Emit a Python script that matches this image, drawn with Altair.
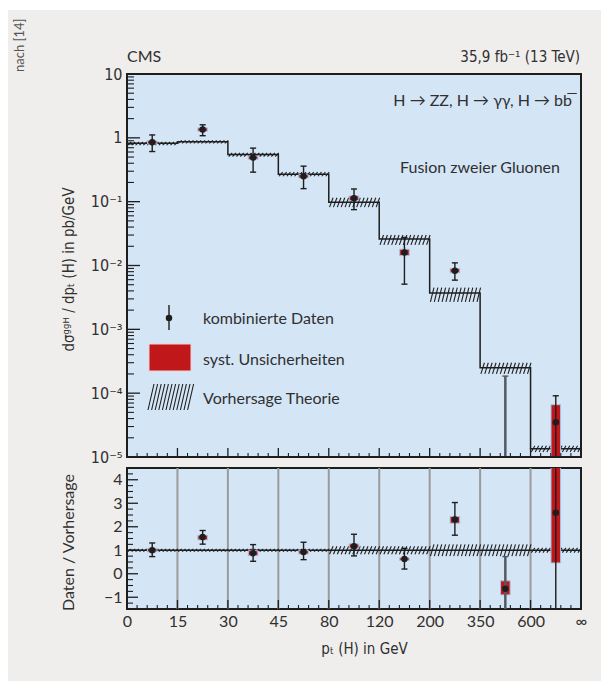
import json
import altair as alt
import numpy as np
import pandas as pd

# ---------------- data ----------------
edge_labels = ["0", "15", "30", "45", "80", "120", "200", "350", "600", "∞"]

theory    = [0.82, 0.87, 0.55, 0.27, 0.098, 0.026, 0.0037, 0.00025, 1.35e-5]
theory_lo = [0.77, 0.82, 0.51, 0.25, 0.082, 0.021, 0.0027, 0.00020, 1.20e-5]
theory_hi = [0.86, 0.91, 0.58, 0.29, 0.115, 0.030, 0.0045, 0.00030, 1.50e-5]

xsec      = [0.85, 1.35, 0.49, 0.25, 0.113, 0.016, 0.0083, -1.6e-4, 3.5e-5]
xsec_lo   = [0.61, 1.08, 0.29, 0.16, 0.075, 0.0051, 0.0059, -5.0e-4, -3.0e-5]
xsec_hi   = [1.11, 1.60, 0.69, 0.36, 0.158, 0.0275, 0.0110, 1.85e-4, 9.1e-5]
syst_lo   = [0.80, 1.27, 0.46, 0.235, 0.104, 0.0143, 0.0077, -2.3e-4, -2.0e-5]
syst_hi   = [0.90, 1.43, 0.52, 0.265, 0.123, 0.0180, 0.0090, -7.0e-5, 6.6e-5]

ratio     = [1.00, 1.56, 0.87, 0.93, 1.17, 0.63, 2.31, -0.64, 2.60]
ratio_lo  = [0.73, 1.26, 0.53, 0.60, 0.76, 0.20, 1.64, -3.00, -3.00]
ratio_hi  = [1.31, 1.84, 1.24, 1.34, 1.68, 1.08, 3.03, 0.73, 7.00]
rsyst_lo  = [0.93, 1.44, 0.77, 0.84, 1.09, 0.57, 2.15, -0.90, 0.46]
rsyst_hi  = [1.08, 1.64, 0.98, 1.00, 1.27, 0.68, 2.44, -0.30, 6.00]
rtheo_lo  = [0.95, 0.95, 0.95, 0.94, 0.83, 0.83, 0.75, 0.75, 0.90]
rtheo_hi  = [1.05, 1.05, 1.05, 1.06, 1.17, 1.17, 1.25, 1.25, 1.10]

upper_ticks = [1e-5, 1e-4, 1e-3, 1e-2, 1e-1, 1, 10]
lower_ticks = [-1, 0, 1, 2, 3, 4]

# ---------------- style ----------------
FONT = "Lato, DejaVu Sans Condensed, sans-serif"
FONT_SUP = "DejaVu Sans Condensed, DejaVu Sans, sans-serif"
INK = "#1e1e1e"
TXT = "#303030"
RED = "#c0171b"
BLUE = "#d4e5f6"
BG = "#efeeec"
W, H1, H2 = 454, 383, 141
NB = len(theory)
YMIN_U, YMAX_U = 1e-5, 10
YMIN_L, YMAX_L = -1.5, 4.5
HALF = 0.095   # half width of syst boxes (in bin units)
CAP = 0.06
FS = 16

xs = alt.Scale(domain=[0, NB], nice=False, zero=False)
ys = alt.Scale(type="log", domain=[YMIN_U, YMAX_U], nice=False)
yl = alt.Scale(domain=[YMIN_L, YMAX_L], nice=False, zero=False)

up_labels = ("datum.value >= 9 ? '10' : (datum.value >= 0.9 ? '1' : "
             "'10\u207b' + ['','\u00b9','\u00b2','\u00b3','\u2074','\u2075'][round(-log(datum.value)/LN10)])")
AXU = alt.Axis(values=upper_ticks, labelExpr=up_labels, ticks=False, domain=False, grid=False,
               labelPadding=5, labelFontSize=FS, labelColor=TXT, labelFont=FONT_SUP,
               title="dσᵍᵍᴴ / dpₜ (H) in pb/GeV", titleFont=FONT_SUP, titleFontSize=15,
               titleFontWeight="normal", titleColor=TXT, titleX=-59, titleY=195,
               titleAngle=270, titleAlign="center", titleBaseline="middle", zindex=1)
AXL = alt.Axis(values=lower_ticks, ticks=False, domain=False, grid=False, labelPadding=5,
               labelFontSize=FS, labelColor=TXT, labelFont=FONT,
               title="Daten / Vorhersage", titleFont=FONT, titleFontSize=FS,
               titleFontWeight="normal", titleColor=TXT, titleX=-59, titleY=74,
               titleAngle=270, titleAlign="center", titleBaseline="middle", zindex=1)
AXX = alt.Axis(values=list(range(NB + 1)), labelExpr=json.dumps(edge_labels) + "[datum.value]",
               ticks=False, domain=False, grid=False, labelPadding=4, labelFontSize=FS,
               labelColor=TXT, labelFont=FONT, labelFlush=False,
               title="pₜ (H) in GeV", titleFont=FONT_SUP, titleFontSize=15, titleFontWeight="normal",
               titleColor=TXT, titleX=237, titleY=39, titleAlign="center", titleBaseline="middle",
               zindex=1)


def XU(f):
    return alt.X(f, type="quantitative", scale=xs, axis=None)


def XL(f):
    return alt.X(f, type="quantitative", scale=xs, axis=AXX)


def YU(f):
    return alt.Y(f, type="quantitative", scale=ys, axis=AXU)


def YL(f):
    return alt.Y(f, type="quantitative", scale=yl, axis=AXL)


centers = np.arange(NB) + 0.5
one = pd.DataFrame({"a": [0]})


def hatch_df(lo, hi, n=13, slant=0.07):
    rows = []
    for i in range(NB):
        for k in range(n):
            x = i + (k + 0.2) / n
            rows.append({"x": x, "x2": x + slant, "y": lo[i], "y2": hi[i]})
    return pd.DataFrame(rows)


def caps_df(lo, hi, ymin, ymax):
    rows = []
    for i in range(NB):
        for v in (lo[i], hi[i]):
            if ymin < v < ymax:
                rows.append({"x": centers[i] - CAP, "x2": centers[i] + CAP, "y": v, "bin": i})
    return pd.DataFrame(rows)


def tick_dfs(major_edges):
    maj = pd.DataFrame({"x": major_edges})
    mino = pd.DataFrame({"x": [i + j / 5 for i in range(NB) for j in range(1, 5)]})
    return maj, mino


# ---------------- upper panel ----------------
pts_u = pd.DataFrame({
    "x": centers, "y": xsec,
    "lo": np.where(np.array(xsec_lo) > 0, xsec_lo, 1e-9), "hi": xsec_hi,
    "slo": np.where(np.array(syst_lo) > 0, syst_lo, 1e-9), "shi": syst_hi,
    "xa": centers - HALF, "xb": centers + HALF, "bin": np.arange(NB)})
step_u = pd.DataFrame({"x": list(range(NB)) + [NB], "y": theory + [theory[-1]]})

err_color = alt.condition("datum.bin == 7", alt.value("#555a60"), alt.value(INK))
err_width = alt.condition("datum.bin == 7", alt.value(2.5), alt.value(1.4))

bg_rect = alt.Chart(one).mark_rect(color=BG).encode(
    x=alt.value(-119), x2=alt.value(W + 20), y=alt.value(-64), y2=alt.value(H1 + 224))
panel_u = alt.Chart(one).mark_rect(color=BLUE).encode(
    x=alt.value(0), x2=alt.value(W), y=alt.value(0), y2=alt.value(H1))

hatch_u = alt.Chart(hatch_df(theory_lo, theory_hi)).mark_rule(color=INK, strokeWidth=1.1, clip=True).encode(
    x=XU("x"), x2="x2", y=YU("y"), y2="y2")
step_line_u = alt.Chart(step_u).mark_line(interpolate="step-after", color=INK, strokeWidth=1.5, clip=True).encode(
    x=XU("x"), y=YU("y"))
syst_u = alt.Chart(pts_u).transform_filter("datum.shi > 0").mark_rect(
    color=RED, stroke="#aac3e2", strokeWidth=1, clip=True).encode(
    x=XU("xa"), x2="xb", y=YU("slo"), y2="shi")
err_u = alt.Chart(pts_u).mark_rule(clip=True).encode(
    x=XU("x"), y=YU("lo"), y2="hi", color=err_color, strokeWidth=err_width)
caps_u = alt.Chart(caps_df(xsec_lo, xsec_hi, YMIN_U, YMAX_U)).mark_rule(clip=True).encode(
    x=XU("x"), x2="x2", y=YU("y"), color=err_color, strokeWidth=alt.value(1.4))
pt_u = alt.Chart(pts_u).transform_filter("datum.y > 0").mark_point(
    filled=True, size=42, color=INK, opacity=1).encode(x=XU("x"), y=YU("y"))

# inward ticks, upper
ymaj_u = pd.DataFrame({"y": upper_ticks})
ymin_u = pd.DataFrame({"y": [m * 10.0 ** k for k in range(-5, 1) for m in range(2, 10)]})
xmaj, xmin = tick_dfs(list(range(1, NB)))
tk_u = [
    alt.Chart(ymaj_u).mark_rule(color=INK, strokeWidth=1.3).encode(y=YU("y"), x=alt.value(0), x2=alt.value(13)),
    alt.Chart(ymin_u).mark_rule(color=INK, strokeWidth=1.1).encode(y=YU("y"), x=alt.value(0), x2=alt.value(7)),
    alt.Chart(xmaj).mark_rule(color=INK, strokeWidth=1.3).encode(x=XU("x"), y=alt.value(H1), y2=alt.value(H1 - 9)),
    alt.Chart(xmin).mark_rule(color=INK, strokeWidth=1.1).encode(x=XU("x"), y=alt.value(H1), y2=alt.value(H1 - 4)),
]


# texts and legend in the upper panel
def txt(s, x, y, size=FS, align="left", color=TXT, angle=0, font=FONT):
    return alt.Chart(one).mark_text(text=s, font=font, fontSize=size, align=align, baseline="middle",
                                    color=color, angle=angle).encode(x=alt.value(x), y=alt.value(y))


texts = [
    txt("CMS", 0, -17),
    txt("35,9 fb⁻¹ (13 TeV)", W - 1, -17, align="right", size=15, font=FONT_SUP),
    txt("H → ZZ, H → γγ, H → bb\u0305", 445, 27, align="right"),
    txt("Fusion zweier Gluonen", 433, 94, align="right"),
    txt("nach [14]", -107, -2, size=13, color="#555555", angle=270),
    txt("kombinierte Daten", 76, 245),
    txt("syst. Unsicherheiten", 76, 286),
    txt("Vorhersage Theorie", 76, 325),
]

leg_hatch = pd.DataFrame({"px": [21 + 3.6 * k for k in range(12)]})
leg_hatch["px2"] = leg_hatch["px"] + 6
legend = [
    alt.Chart(one).mark_rule(color=INK, strokeWidth=1.4).encode(
        x=alt.value(42), y=alt.value(231), y2=alt.value(256)),
    alt.Chart(one).mark_point(filled=True, size=42, color=INK, opacity=1).encode(
        x=alt.value(42), y=alt.value(244)),
    alt.Chart(one).mark_rect(color=RED, stroke="#f3d0d0", strokeWidth=1).encode(
        x=alt.value(22), x2=alt.value(64), y=alt.value(270), y2=alt.value(297)),
    alt.Chart(leg_hatch).mark_rule(color=INK, strokeWidth=1.1).encode(
        x=alt.X("px:Q", scale=None), x2="px2:Q", y=alt.value(336), y2=alt.value(310)),
]

frame_u = alt.Chart(one).mark_rect(fillOpacity=0, stroke=INK, strokeWidth=2).encode(
    x=alt.value(0), x2=alt.value(W), y=alt.value(0), y2=alt.value(H1))

upper = alt.layer(
    bg_rect, panel_u, hatch_u, step_line_u, syst_u, err_u, caps_u, pt_u, *tk_u, *texts, *legend, frame_u
).properties(width=W, height=H1, view=alt.ViewBackground(fill=None, stroke=None))

# ---------------- lower panel ----------------
pts_l = pd.DataFrame({
    "x": centers, "y": ratio, "lo": ratio_lo, "hi": ratio_hi,
    "slo": rsyst_lo, "shi": rsyst_hi,
    "xa": centers - HALF, "xb": centers + HALF, "bin": np.arange(NB)})
grid_l = pd.DataFrame({"x": list(range(1, NB))})
one_line = pd.DataFrame({"x": [0], "x2": [NB], "y": [1.0]})

grid = alt.Chart(grid_l).mark_rule(color="#9b9b9b", strokeWidth=2).encode(x=XL("x"))
hatch_l = alt.Chart(hatch_df(rtheo_lo, rtheo_hi)).mark_rule(color=INK, strokeWidth=1.1, clip=True).encode(
    x=XL("x"), x2="x2", y=YL("y"), y2="y2")
line_l = alt.Chart(one_line).mark_rule(color=INK, strokeWidth=1.5).encode(x=XL("x"), x2="x2", y=YL("y"))
syst_l = alt.Chart(pts_l).mark_rect(color=RED, stroke="#aac3e2", strokeWidth=1, clip=True).encode(
    x=XL("xa"), x2="xb", y=YL("slo"), y2="shi")
err_l = alt.Chart(pts_l).mark_rule(clip=True).encode(
    x=XL("x"), y=YL("lo"), y2="hi", color=err_color, strokeWidth=err_width)
caps_l = alt.Chart(caps_df(ratio_lo, ratio_hi, YMIN_L, YMAX_L)).mark_rule(clip=True).encode(
    x=XL("x"), x2="x2", y=YL("y"), color=err_color, strokeWidth=alt.value(1.4))
pt_l = alt.Chart(pts_l).mark_point(filled=True, size=42, color=INK, opacity=1, clip=True).encode(
    x=XL("x"), y=YL("y"))

ymaj_l = pd.DataFrame({"y": lower_ticks})
ymin_l = pd.DataFrame({"y": [v / 4 for v in range(-6, 18) if v % 4 != 0]})
tk_l = [
    alt.Chart(ymaj_l).mark_rule(color=INK, strokeWidth=1.3).encode(y=YL("y"), x=alt.value(0), x2=alt.value(11)),
    alt.Chart(ymin_l).mark_rule(color=INK, strokeWidth=1.1).encode(y=YL("y"), x=alt.value(0), x2=alt.value(6)),
    alt.Chart(xmaj).mark_rule(color=INK, strokeWidth=1.3).encode(x=XL("x"), y=alt.value(H2), y2=alt.value(H2 - 9)),
    alt.Chart(xmin).mark_rule(color=INK, strokeWidth=1.1).encode(x=XL("x"), y=alt.value(H2), y2=alt.value(H2 - 4)),
]

lower = alt.layer(
    grid, hatch_l, line_l, syst_l, err_l, caps_l, pt_l, *tk_l
).properties(width=W, height=H2, view=alt.ViewBackground(fill=BLUE, stroke=INK, strokeWidth=2))

chart = alt.vconcat(upper, lower, spacing=11, bounds="flush").properties(
    padding={"left": 8, "top": 10, "right": 8, "bottom": 8},
    autosize=alt.AutoSizeParams(type="pad"),
).configure(background="white", font=FONT)

chart.save("out.html", embed_options={"renderer": "svg", "actions": False})
